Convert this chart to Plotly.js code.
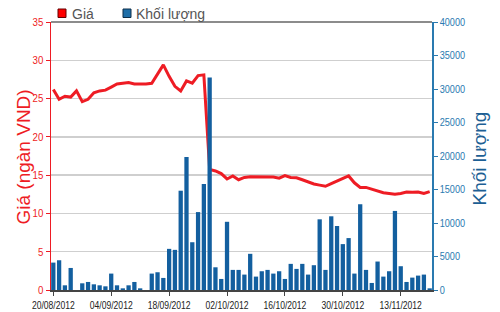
<!DOCTYPE html>
<html>
<head>
<meta charset="utf-8">
<script src="https://cdn.plot.ly/plotly-3.0.1.min.js"></script>
<style>html,body{margin:0;padding:0;background:#fff}#chart{width:500px;height:312px}</style>
</head>
<body>
<div id="chart"></div>
<script>
var dates = [
 "20/08/2012","21/08/2012","22/08/2012","23/08/2012","24/08/2012",
 "27/08/2012","28/08/2012","29/08/2012","30/08/2012","31/08/2012",
 "04/09/2012","05/09/2012","06/09/2012","07/09/2012",
 "10/09/2012","11/09/2012","12/09/2012","13/09/2012","14/09/2012",
 "17/09/2012","18/09/2012","19/09/2012","20/09/2012","21/09/2012",
 "24/09/2012","25/09/2012","26/09/2012","27/09/2012","28/09/2012",
 "01/10/2012","02/10/2012","03/10/2012","04/10/2012","05/10/2012",
 "08/10/2012","09/10/2012","10/10/2012","11/10/2012","12/10/2012",
 "15/10/2012","16/10/2012","17/10/2012","18/10/2012","19/10/2012",
 "22/10/2012","23/10/2012","24/10/2012","25/10/2012","26/10/2012",
 "29/10/2012","30/10/2012","31/10/2012","01/11/2012","02/11/2012",
 "05/11/2012","06/11/2012","07/11/2012","08/11/2012","09/11/2012",
 "12/11/2012","13/11/2012","14/11/2012","15/11/2012","16/11/2012",
 "19/11/2012","20/11/2012"
];
var price = [
 26.2,24.9,25.3,25.2,26.0,24.6,24.9,25.75,26.0,26.1,
 26.5,26.9,27.0,27.1,26.9,26.9,26.9,27.0,28.2,29.4,
 27.9,26.6,26.0,27.3,27.0,28.0,28.1,15.75,15.55,15.2,
 14.5,14.9,14.4,14.7,14.8,14.8,14.8,14.8,14.75,14.6,
 14.95,14.7,14.65,14.4,14.1,13.85,13.7,13.55,13.9,14.25,
 14.6,14.9,14.0,13.4,13.4,13.2,12.9,12.7,12.6,12.5,
 12.6,12.8,12.75,12.8,12.6,12.85
];
var volume = [
 4090,4440,700,3290,0,1000,1200,850,700,550,
 2450,700,250,700,1200,250,0,2450,2650,1800,
 6140,5990,14820,19860,7130,11630,15820,31700,3390,1650,
 10180,3000,3000,2300,5400,2000,2800,3000,2450,2800,
 1650,3900,3150,3900,2300,3700,10550,3000,11000,9550,
 6850,7750,2450,12800,3000,1050,4250,2000,2800,11800,
 3550,1200,1850,2150,2300,250
];
var xTicks = ["20/08/2012","04/09/2012","18/09/2012","02/10/2012","16/10/2012","30/10/2012","13/11/2012"];
var legendNames = ["Giá","Khối lượng"];
var axisTitles = ["Giá (ngàn VND)","Khối lượng"];

var RED = "#ee1c24";
var BLUE = "#2a7ab0";
var BAR = "#135f9f";
var FONT = "Liberation Sans, Arial, sans-serif";

var traces = [
 {type:"bar", x:dates, y:volume, yaxis:"y2", marker:{color:BAR, line:{width:0}}, name:legendNames[1]},
 {type:"scatter", mode:"lines", x:dates, y:price, line:{color:RED, width:3}, name:legendNames[0]}
];

var layout = {
 width:500, height:312,
 margin:{l:51, r:68, t:22, b:22},
 paper_bgcolor:"#fff", plot_bgcolor:"#fff",
 showlegend:false,
 bargap:0.26,
 xaxis:{type:"category", range:[-0.4,65.4], tickmode:"array", tickvals:xTicks, ticktext:xTicks,
   showgrid:false, showline:true, linecolor:"#444", linewidth:1.5, ticks:"outside", ticklen:4, tickcolor:"#444",
   tickfont:{family:FONT, size:11, color:"#222"}, zeroline:false, fixedrange:true},
 yaxis:{range:[0,35], dtick:5, tick0:0, showgrid:true, gridcolor:"#cfcfcf", gridwidth:1.5,
   showline:true, linecolor:RED, linewidth:1.5, ticks:"outside", ticklen:4, tickcolor:RED,
   tickfont:{family:FONT, size:11, color:RED}, zeroline:false},
 yaxis2:{range:[0,40000], dtick:5000, tick0:0, tickformat:"d", overlaying:"y", side:"right", showgrid:false,
   showline:true, linecolor:BLUE, linewidth:1.5, ticks:"outside", ticklen:4, tickcolor:BLUE,
   tickfont:{family:FONT, size:11, color:BLUE}, zeroline:false},
 shapes:[
  {type:"line", xref:"paper", yref:"paper", x0:0, x1:1, y0:1, y1:1, line:{color:"#666", width:1.5}},
  {type:"rect", xref:"paper", yref:"paper", x0:(58-51)/381, x1:(66-51)/381, y0:(290-17.5)/268, y1:(290-9)/268, fillcolor:"#ff0000", line:{color:"#600", width:1}},
  {type:"rect", xref:"paper", yref:"paper", x0:(123-51)/381, x1:(131-51)/381, y0:(290-17.5)/268, y1:(290-9)/268, fillcolor:"#1f6fa8", line:{color:"#0d2f4a", width:1}}
 ],
 annotations:[
  {xref:"paper", yref:"paper", x:(70-51)/381, y:(290-13.5)/268, xanchor:"left", yanchor:"middle", showarrow:false,
   text:legendNames[0], font:{family:FONT, size:14, color:"#555"}},
  {xref:"paper", yref:"paper", x:(134-51)/381, y:(290-13.5)/268, xanchor:"left", yanchor:"middle", showarrow:false,
   text:legendNames[1], font:{family:FONT, size:14, color:"#555"}},
  {xref:"paper", yref:"paper", x:(22.5-51)/381, y:(290-157)/268, xanchor:"center", yanchor:"middle", showarrow:false,
   textangle:-90, text:axisTitles[0], font:{family:FONT, size:19, color:RED}},
  {xref:"paper", yref:"paper", x:(479-51)/381, y:(290-158.5)/268, xanchor:"center", yanchor:"middle", showarrow:false,
   textangle:-90, text:axisTitles[1], font:{family:FONT, size:19, color:"#1d5f94"}}
 ]
};
Plotly.newPlot("chart", traces, layout, {displayModeBar:false, staticPlot:true}).then(function(gd){
  function squeeze(sel, ratio){
    gd.querySelectorAll(sel).forEach(function(t){
      var w = t.getComputedTextLength();
      if (w > 0) { t.setAttribute("textLength", (w*ratio).toFixed(1)); t.setAttribute("lengthAdjust","spacingAndGlyphs"); }
    });
  }
  squeeze(".xtick text", 0.78);
  squeeze(".ytick text", 0.88);
  squeeze(".y2tick text", 0.83);
});
</script>
</body>
</html>
